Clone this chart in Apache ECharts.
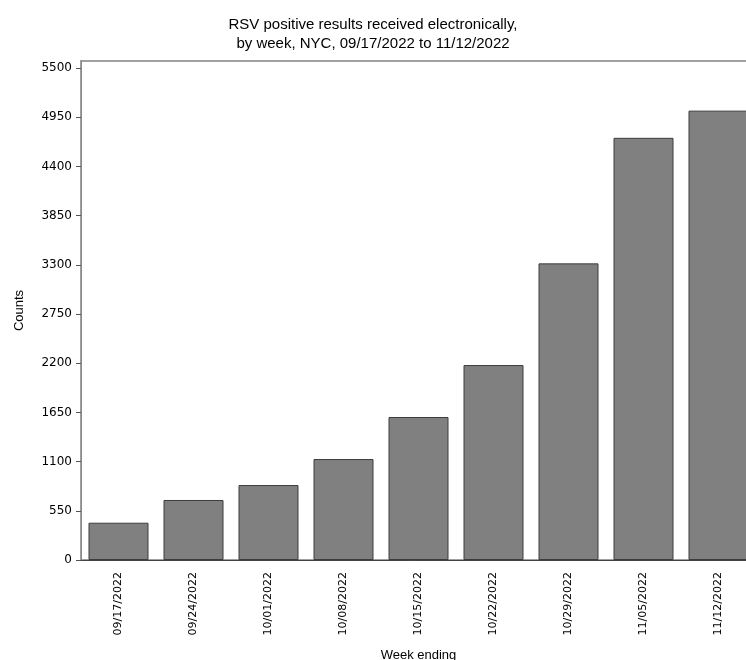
<!DOCTYPE html>
<html>
<head>
<meta charset="utf-8">
<script src="https://cdn.jsdelivr.net/npm/echarts@6/dist/echarts.min.js"></script>
<style>
html,body{margin:0;padding:0;background:#fff;}
#chart{width:746px;height:660px;}
</style>
</head>
<body>
<div id="chart"></div>
<script>
const categories = ["09/17/2022","09/24/2022","10/01/2022","10/08/2022","10/15/2022","10/22/2022","10/29/2022","11/05/2022","11/12/2022"];
const counts = [417, 671, 838, 1129, 1599, 2180, 3317, 4721, 5025];
const yTicks = [0, 550, 1100, 1650, 2200, 2750, 3300, 3850, 4400, 4950, 5500];
const yMax = 5580;

const chart = echarts.init(document.getElementById('chart'), null, {renderer: 'canvas'});
chart.setOption({
  animation: false,
  backgroundColor: '#ffffff',
  title: {
    text: 'RSV positive results received electronically,\nby week, NYC, 09/17/2022 to 11/12/2022',
    left: 'center',
    top: 10,
    textStyle: {fontFamily: 'Liberation Sans', fontSize: 15, fontWeight: 'normal', color: '#000', lineHeight: 19}
  },
  grid: {left: 81, right: -10, top: 61, bottom: 100, containLabel: false, outerBoundsMode: 'none',
         show: true, borderColor: '#a0a0a0', borderWidth: 2, backgroundColor: 'transparent'},
  xAxis: {
    type: 'category',
    data: categories,
    name: 'Week ending',
    nameLocation: 'middle',
    nameGap: 89,
    nameTextStyle: {fontFamily: 'Liberation Sans', fontSize: 13, color: '#000'},
    axisLine: {show: true, lineStyle: {color: '#444', width: 1}},
    axisTick: {show: false},
    axisLabel: {rotate: 90, margin: 12, fontFamily: 'DejaVu Sans', fontSize: 11, color: '#000'},
    splitLine: {show: false}
  },
  yAxis: {
    type: 'value',
    min: 0,
    max: yMax,
    interval: 550,
    name: 'Counts',
    nameLocation: 'middle',
    nameGap: 55,
    nameTextStyle: {fontFamily: 'Liberation Sans', fontSize: 13, color: '#000'},
    axisLine: {show: true, lineStyle: {color: '#888', width: 1}},
    axisTick: {show: true, length: 5, lineStyle: {color: '#555'}, customValues: yTicks},
    axisLabel: {fontFamily: 'DejaVu Sans', fontSize: 12, color: '#000', margin: 9, customValues: yTicks,
                formatter: function (v) { return String(v); }},
    splitLine: {show: false}
  },
  series: [{
    type: 'bar',
    data: counts,
    barCategoryGap: '20%',
    itemStyle: {color: '#808080', borderColor: '#3c3c3c', borderWidth: 1}
  }]
});
</script>
</body>
</html>
